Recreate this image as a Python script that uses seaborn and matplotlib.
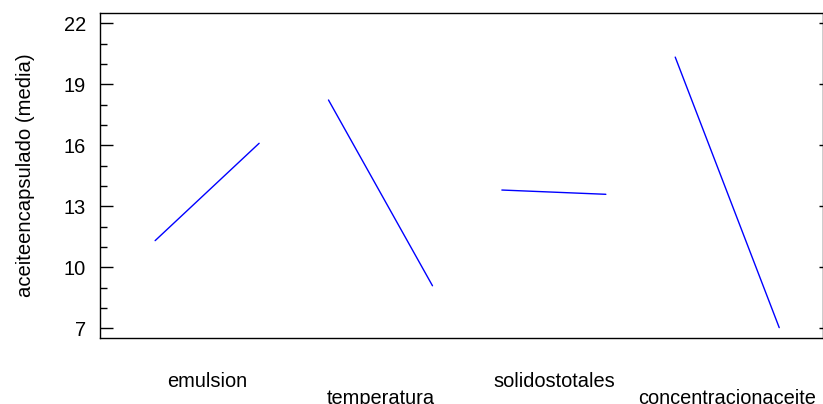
import matplotlib
matplotlib.use("Agg")
import matplotlib.pyplot as plt
import matplotlib.transforms as mtransforms
from matplotlib.ticker import MultipleLocator
import numpy as np
import pandas as pd
import seaborn as sns

# ---- data ----
factors = ["emulsion", "temperatura", "solidostotales", "concentracionaceite"]
low_means = [11.31, 18.23, 13.80, 20.34]
high_means = [16.10, 9.09, 13.59, 7.03]
y_ticks = [7, 10, 13, 16, 19, 22]
y_label = "aceiteencapsulado (media)"

# ---- build long table ----
spacing = 1.667
offset = 0.53
rows = []
for i, f in enumerate(factors):
    x0 = offset + i * spacing
    rows.append({"factor": f, "x": x0, "media": low_means[i]})
    rows.append({"factor": f, "x": x0 + 1.0, "media": high_means[i]})
df = pd.DataFrame(rows)

sns.set_theme(style="white")
plt.rcParams["font.family"] = ["Liberation Sans", "DejaVu Sans"]

W, H = 823, 404
fig = plt.figure(figsize=(W / 100, H / 100), dpi=100)
left_px, right_px, top_px, bottom_px = 100, 823, 13, 338
ax = fig.add_axes([left_px / W, 1 - bottom_px / H,
                   (right_px - left_px) / W, (bottom_px - top_px) / H])

sns.lineplot(data=df, x="x", y="media", units="factor", estimator=None,
             color="#0000ff", linewidth=1.0, ax=ax, legend=False)

ax.set_xlim(0, (right_px - left_px) / 104.0)
ax.set_ylim(6.52, 22.51)

for s in ax.spines.values():
    s.set_color("black")
    s.set_linewidth(1.0)

ax.set_yticks(y_ticks)
ax.yaxis.set_minor_locator(MultipleLocator(1))
ax.tick_params(axis="y", which="major", direction="in", length=9.5, width=1.0,
               color="black", labelsize=14.4, labelcolor="black", pad=10, left=True)
ax.tick_params(axis="y", which="minor", direction="in", length=5, width=1.0,
               color="black", left=True)
ax.tick_params(axis="x", which="both", bottom=False, labelbottom=False)

sec = ax.secondary_yaxis("right")
sec.set_yticks(y_ticks)
sec.tick_params(direction="in", length=3, width=1.0, color="black", labelright=False)
sec.spines["right"].set_visible(False)

ax.set_xlabel("")
ax.set_ylabel(y_label, fontsize=14.6, color="black", labelpad=21)

trans = mtransforms.blended_transform_factory(ax.transData, ax.transAxes)
for i, f in enumerate(factors):
    xc = offset + i * spacing + 0.5
    yb = -0.1508 if i % 2 == 0 else -0.203
    ax.text(xc, yb, f, transform=trans, ha="center", va="baseline",
            fontsize=14.4, color="black")

fig.savefig("out.png", dpi=100)
